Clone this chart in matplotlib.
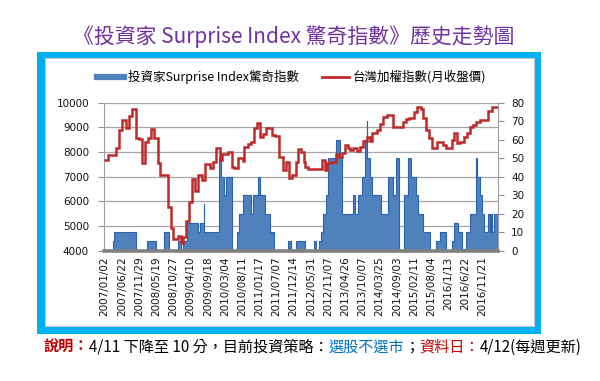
import matplotlib
matplotlib.use("Agg")
import matplotlib.pyplot as plt
from matplotlib.patches import Rectangle
from matplotlib.lines import Line2D
import numpy as np

plt.rcParams['font.family'] = ['Noto Sans CJK TC', 'DejaVu Sans']

# x axis labels, one every 23 weeks
tick_dates = ["2007/01/02", "2007/06/22", "2007/11/29", "2008/05/19", "2008/10/27",
              "2009/04/10", "2009/09/18", "2010/03/04", "2010/08/11", "2011/01/17",
              "2011/07/07", "2011/12/14", "2012/05/31", "2012/11/07", "2013/04/26",
              "2013/10/07", "2014/03/25", "2014/09/03", "2015/02/11", "2015/08/04",
              "2016/1/13", "2016/6/22", "2016/11/21"]
tick_step = 23

# surprise index (weekly), stored as runs: value and how many weeks it lasted
surprise_values = [0, 5, 10, 0, 5, 0, 10, 0, 5, 0, 5, 15, 10, 15, 25, 10, 50, 40, 30, 40,
                   0, 10, 20, 30, 20, 30, 40, 30, 20, 10, 0, 5, 0, 5, 0, 5, 0, 5, 10, 20,
                   30, 50, 60, 50, 20, 30, 20, 30, 40, 60, 70, 50, 40, 30, 20, 40, 30, 50, 0, 30,
                   50, 40, 30, 20, 10, 0, 5, 10, 0, 5, 15, 10, 1, 10, 20, 50, 40, 30, 20, 10,
                   20, 10, 20, 10, 20]
surprise_weeks = [11, 2, 30, 14, 12, 11, 7, 12, 4, 3, 5, 15, 2, 5, 1, 20, 2, 4, 3, 8,
                  6, 3, 6, 10, 3, 7, 2, 7, 7, 5, 19, 4, 6, 12, 13, 3, 3, 3, 3, 4,
                  3, 10, 6, 2, 15, 3, 4, 5, 4, 2, 1, 4, 3, 12, 9, 7, 3, 4, 7, 6,
                  3, 7, 3, 7, 9, 8, 5, 8, 8, 3, 5, 6, 5, 5, 8, 2, 4, 3, 2, 6,
                  2, 2, 1, 3, 5]

# TAIEX monthly close, held over the weeks of each month
taiex_values = [7677, 7880, 8175, 8890, 9300, 8960, 9470, 9745, 8580, 8515,
                7540, 8420, 8580, 8930, 8580, 7540, 7070, 5785, 4910, 4460,
                4600, 4300, 4570, 5215, 5990, 6890, 6430, 7070, 6865, 7500,
                7365, 7585, 8175, 7677, 7920, 8015, 7380, 7350, 7770, 7620,
                8215, 8325, 8420, 8985, 9165, 8595, 8720, 8985, 8690, 8650,
                7785, 7270, 7610, 6935, 7070, 7610, 8120, 8000, 7610, 7380,
                7300, 7677, 7270, 7570, 7610, 7920, 7785, 7975, 8270, 8150,
                8080, 8150, 8050, 8215, 8445, 8595, 8445, 8760, 8890, 9125,
                9410, 9500, 9025, 9000, 9230, 9325, 9390, 9635, 9835, 9730,
                9365, 8890, 8555, 8175, 8420, 8400, 8285, 8150, 8490, 8785,
                8380, 8420, 8620, 8760, 9025, 9095, 9230, 9300, 9660, 9810, 9835]
taiex_weeks = [5, 10, 5, 4, 5, 4, 4, 5, 4, 5,
               4, 4, 4, 4, 5, 3, 10, 4, 3, 6,
               4, 4, 3, 4, 5, 4, 4, 5, 4, 6,
               4, 5, 5, 3, 7, 6, 3, 5, 6, 2,
               6, 4, 4, 4, 3, 5, 4, 8, 4, 5,
               5, 4, 4, 4, 5, 3, 4, 4, 2, 4,
               18, 4, 3, 5, 7, 4, 4, 4, 4, 3,
               4, 5, 4, 4, 5, 4, 4, 6, 4, 4,
               6, 7, 5, 9, 4, 4, 6, 4, 6, 3,
               4, 3, 4, 7, 4, 4, 5, 7, 3, 4,
               4, 5, 4, 4, 5, 4, 5, 11, 5, 4, 4]

surprise_edges = np.concatenate([[0], np.cumsum(surprise_weeks)])
taiex_edges = np.concatenate([[0], np.cumsum(taiex_weeks)])
n_weeks = surprise_edges[-1]

W, H = 600, 381
fig = plt.figure(figsize=(W / 100, H / 100), dpi=100)

# cyan frame with white inner panel
fig.add_artist(Rectangle((37 / W, 1 - 334 / H), 504 / W, 282 / H, transform=fig.transFigure,
                         facecolor='#00B0F0', edgecolor='none', zorder=-2))
fig.add_artist(Rectangle((45 / W, 1 - 326 / H), 489 / W, 268 / H, transform=fig.transFigure,
                         facecolor='white', edgecolor='#c8c8c8', lw=0.8, zorder=-1))

ax = fig.add_axes([104.3 / W, 1 - 250.7 / H, (498 - 104.3) / W, (250.7 - 102.7) / H])
ax.set_xlim(0, n_weeks)
ax.set_ylim(4000, 10000)
ax.set_yticks(range(4000, 10001, 1000))
ax.grid(axis='y', color='#a6a6a6', lw=0.9)
ax.set_axisbelow(True)
ax.set_xticks(np.arange(len(tick_dates)) * tick_step + 0.5, tick_dates, rotation=90,
              fontsize=7.5, family='DejaVu Sans', color='#111111')
ax.tick_params(axis='x', length=0, pad=4)
ax.tick_params(axis='y', length=4, width=0.8, color='#909090', pad=7, labelsize=7.5,
               labelcolor='#111111')
for lab in ax.get_yticklabels():
    lab.set_family('DejaVu Sans')
for s in ['top', 'right', 'bottom']:
    ax.spines[s].set_visible(False)
ax.spines['left'].set_color('#a0a0a0')

# bars on the right axis
ax2 = ax.twinx()
ax2.stairs(surprise_values, surprise_edges, fill=True, color='#4F81BD', lw=0)
ax2.stairs(surprise_values, surprise_edges, color='#2A62AE', lw=0.8)
ax2.set_ylim(0, 80)
ax2.set_yticks(range(0, 81, 10))
ax2.tick_params(axis='y', length=4, width=0.8, color='#909090', pad=5.5, labelsize=7.5,
                labelcolor='#111111')
for lab in ax2.get_yticklabels():
    lab.set_family('DejaVu Sans')
for s in ['top', 'left', 'bottom']:
    ax2.spines[s].set_visible(False)
ax2.spines['right'].set_color('#a0a0a0')

# index line on top
ax3 = ax.twinx()
ax3.set_ylim(4000, 10000)
ax3.stairs(taiex_values, taiex_edges, baseline=None, color='#BE2A2A', lw=1.8)
ax3.set_yticks([])
for s in ['top', 'left', 'right']:
    ax3.spines[s].set_visible(False)
ax3.spines['bottom'].set_color('#808080')
ax3.spines['bottom'].set_linewidth(2.6)

handles = [Line2D([], [], color='#4F81BD', lw=4.5), Line2D([], [], color='#BE2A2A', lw=2)]
fig.legend(handles, ["投資家Surprise Index驚奇指數", "台灣加權指數(月收盤價)"],
           loc='center', bbox_to_anchor=(291.5 / W, 1 - 77 / H), ncol=2, frameon=False,
           fontsize=9, handlelength=2.2, handletextpad=0.3, columnspacing=1.8)

fig.text(294 / W, 1 - 37 / H, "《投資家 Surprise Index 驚奇指數》歷史走勢圖",
         ha='center', va='center', fontsize=15, color='#7030A0', weight='medium')

# footnote in coloured pieces
note_parts = [("說明：", '#C00000', 'bold'),
              ("4/11 下降至 10 分，目前投資策略：", 'black', 'normal'),
              ("選股不選市", '#0070C0', 'normal'),
              ("；", 'black', 'normal'),
              ("資料日：", '#C00000', 'normal'),
              ("4/12(每週更新)", 'black', 'normal')]
renderer = fig.canvas.get_renderer()
x = 43.3 / W
for txt, col, wt in note_parts:
    t = fig.text(x, 1 - 347 / H, txt, ha='left', va='center', fontsize=10.9,
                 color=col, weight=wt)
    bb = t.get_window_extent(renderer)
    x = bb.x1 / W

fig.savefig("out.png", dpi=100)
